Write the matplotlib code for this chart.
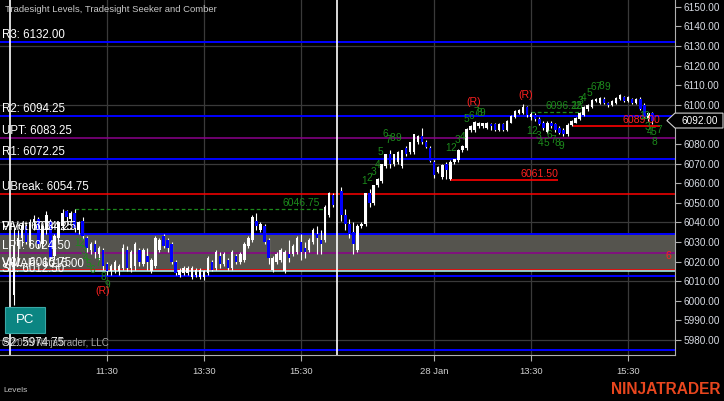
import numpy as np
import matplotlib.pyplot as plt
from matplotlib.patches import Rectangle, Polygon
from matplotlib.transforms import blended_transform_factory

plt.rcParams['font.family'] = ['Liberation Sans', 'DejaVu Sans']

# 5 min bars, 27 Jan (day 1) and 28 Jan (day 2)
d1_open = [6003, 6028, 6032, 6038, 6030, 6040, 6042, 6029, 6036, 6041,
           6023, 6032, 6038, 6046, 6042, 6045, 6036, 6041, 6032, 6026,
           6029, 6024, 6026, 6019, 6015, 6016, 6015, 6017, 6026, 6017,
           6018, 6026, 6019, 6023, 6015, 6018, 6026, 6033, 6031, 6029,
           6020, 6013, 6014, 6014, 6012, 6013, 6012, 6012, 6014, 6020,
           6017, 6023, 6019, 6021, 6017, 6023, 6020, 6021, 6028, 6031,
           6041, 6036, 6038, 6031, 6016, 6020, 6021, 6015, 6024, 6024,
           6025, 6030, 6027, 6026, 6030, 6034, 6031, 6031, 6044, 6054]
d1_high = [6037, 6036, 6040, 6039, 6042, 6044, 6043, 6039, 6046, 6042,
           6034, 6041, 6047, 6046.5, 6046, 6046.75, 6041, 6043, 6033, 6030,
           6031, 6028, 6027, 6020, 6019, 6021, 6019, 6029, 6028, 6026,
           6030, 6027, 6027, 6027, 6022, 6033, 6032, 6034, 6032, 6030,
           6021, 6017, 6018, 6018, 6018, 6017, 6017, 6016, 6023, 6021,
           6026, 6025, 6025, 6022, 6026, 6024, 6025, 6030, 6033, 6044,
           6045, 6040, 6039, 6032, 6023, 6025, 6027, 6026, 6031, 6029,
           6033, 6034, 6030, 6032, 6037, 6038, 6036, 6049, 6055.5, 6055]
d1_low = [5998, 6020, 6028, 6029, 6028, 6036, 6027, 6027, 6034, 6021,
          6021, 6030, 6036, 6041, 6040, 6035, 6034, 6031, 6025, 6024,
          6022, 6021, 6016, 6013, 6013, 6014, 6013, 6016, 6015, 6014.5,
          6016, 6018, 6018, 6016, 6014, 6017, 6025, 6027, 6025, 6019,
          6013, 6012, 6013, 6013, 6011, 6012, 6011, 6010.5, 6013, 6015,
          6016, 6017, 6018, 6016, 6016, 6019, 6019, 6020, 6027, 6030,
          6036, 6035, 6029, 6019, 6014.5, 6019, 6020, 6014, 6020, 6023,
          6024, 6021, 6022, 6025, 6029, 6024, 6024, 6030, 6043, 6048]
d1_close = [6028, 6032, 6038, 6030, 6040, 6042, 6029, 6038, 6044, 6022,
            6033, 6040, 6045, 6043, 6045, 6037, 6040, 6033, 6027, 6029,
            6025, 6027, 6018, 6015, 6018, 6020, 6018, 6027, 6017, 6025,
            6029, 6020, 6026, 6020, 6021, 6032, 6031, 6028, 6027, 6020,
            6014, 6016, 6017, 6017, 6017, 6016, 6016, 6015, 6022, 6016,
            6025, 6019, 6024, 6017, 6025, 6020, 6024, 6029, 6032, 6043,
            6038, 6039, 6030, 6022, 6022, 6024, 6026, 6025, 6022, 6028,
            6032, 6025, 6025, 6031, 6036, 6032, 6029, 6048, 6055, 6049]

d2_open = [6056, 6044, 6039, 6035, 6026, 6038, 6039, 6055, 6050, 6059,
           6061, 6069, 6075, 6070, 6071, 6069, 6078, 6076, 6076, 6081,
           6084, 6081, 6078, 6071, 6066, 6063, 6070, 6062, 6071, 6072,
           6077, 6078, 6087, 6087, 6089, 6089, 6088, 6090, 6090, 6087,
           6090, 6087, 6091, 6094, 6096, 6096, 6099, 6094, 6095, 6093,
           6091, 6086, 6091, 6090, 6088, 6087, 6085, 6089.5, 6091, 6093,
           6095, 6098, 6099, 6102, 6101, 6103, 6101, 6100, 6101, 6103,
           6104, 6102, 6103, 6101, 6103, 6100, 6093, 6096]
d2_high = [6058, 6047, 6042, 6040, 6039, 6040, 6055, 6057, 6059, 6062.5,
           6070, 6075, 6077, 6075, 6076.5, 6077, 6079, 6081, 6085, 6084.5,
           6088, 6082, 6079, 6072, 6069, 6070, 6071, 6072, 6072.5, 6077.5,
           6079.5, 6088, 6089.5, 6092, 6091.5, 6091, 6091.5, 6091, 6090.5, 6090.5,
           6090.5, 6092.5, 6095, 6097.5, 6098, 6100.5, 6099.5, 6096.25, 6096, 6094,
           6092, 6092, 6092, 6091, 6089, 6088, 6091, 6092.5, 6094, 6096.5,
           6099.5, 6100.5, 6103, 6103.5, 6104, 6104, 6101.5, 6102.5, 6104, 6105.5,
           6104.5, 6104.5, 6103.5, 6103.5, 6104, 6101, 6096.5, 6096.5]
d2_low = [6041, 6036, 6032, 6024, 6025, 6037, 6038, 6048, 6049, 6058,
          6060, 6068, 6068, 6069, 6070, 6068, 6074, 6075, 6075, 6080,
          6080, 6078, 6071, 6062.5, 6065, 6062, 6062, 6061.5, 6070, 6071,
          6076, 6077, 6086, 6086, 6088, 6088, 6087.5, 6087, 6086.5, 6086.5,
          6086.5, 6086.5, 6090.5, 6093.5, 6095.5, 6095.5, 6094, 6092.5, 6092, 6089.5,
          6087, 6085.5, 6088, 6086, 6085, 6084, 6084, 6089, 6090.5, 6092.5,
          6094.5, 6097, 6098.5, 6101.5, 6100.5, 6100.5, 6099, 6099.5, 6100.5, 6102.5,
          6101.5, 6101.5, 6100.5, 6100.5, 6097.5, 6093.5, 6092, 6090]
d2_close = [6044, 6039, 6034, 6029, 6038, 6039, 6055, 6050, 6059, 6062,
            6070, 6075, 6070, 6075, 6076, 6077, 6075, 6081, 6085, 6084,
            6081, 6078.5, 6071.5, 6064, 6068.5, 6069.5, 6067, 6071, 6072.5, 6077,
            6079, 6087.5, 6089, 6091.5, 6091, 6090.5, 6091, 6089, 6087, 6090,
            6087, 6092, 6094.5, 6097, 6097.5, 6099, 6095, 6095.5, 6093, 6090,
            6088, 6091, 6089, 6087, 6085.5, 6085, 6089.5, 6092, 6093.5, 6096,
            6099, 6100, 6102.5, 6103, 6103.5, 6101, 6100, 6102, 6103.5, 6105,
            6102, 6104, 6101, 6103, 6098, 6094, 6096, 6092]

tick_bars = [23, 47, 71, 104, 128, 152]
tick_labels = ['11:30', '13:30', '15:30', '28 Jan', '13:30', '15:30']
session_breaks = [-1, 80]

# Tradesight levels
level_prices = [6132.00, 6094.25, 6083.25, 6072.25, 6054.75, 6034.25, 6024.50,
                6015.75, 6015.00, 6012.50, 5974.75]
level_colors = ['#0000ff', '#0000ff', '#8b008b', '#0000ff', '#ff0000', '#0000ff',
                '#8b008b', '#ff0000', '#a8ffff', '#0000ff', '#0000ff']
label_texts = ['R3: 6132.00', 'R2: 6094.25', 'UPT: 6083.25', 'R1: 6072.25',
               'UBreak: 6054.75', 'Pivot: 6034.25', 'VAH: 6034.25', 'LPT: 6024.50',
               'VAL: 6015.75', 'VWAP: 6015.00', 'S1: 6012.50', 'S2: 5974.75']
label_prices = [6132.00, 6094.25, 6083.25, 6072.25, 6054.75, 6034.25, 6034.25,
                6024.50, 6015.75, 6015.00, 6012.50, 5974.75]
va_low, va_high = 6015.75, 6034.25

# Seeker / Comber counts
seek_n = [15.6, 16.6, 17.1, 17.8, 18.3, 19.3, 20.8, 22, 23,
          86.6, 87.9, 88.9, 90.1, 90.8, 91.8, 92.6, 93.6, 95,
          107.4, 108.7, 109.7, 111.1, 111.9, 113.1, 114.4, 115.1, 115.8,
          127.5, 128.7, 129.7, 130.4, 131.7, 132.4, 133.4, 134.4, 135.4,
          138.6, 139.6, 140.1, 141.1, 142.3, 143.3, 144.6, 145.5, 146.8,
          155.4, 156.4, 156.9, 157.4, 158.2, 158.4, 159.7]
seek_p = [6029.5, 6029.5, 6025.5, 6021.9, 6018.8, 6015.8, 6019.3, 6012.2, 6008.1,
          6061.2, 6062.7, 6065.8, 6069.3, 6076.0, 6085.1, 6082.0, 6083.0, 6083.1,
          6078.0, 6078.0, 6082.1, 6083.6, 6092.8, 6094.3, 6096.4, 6095.9, 6095.9,
          6086.7, 6086.7, 6084.1, 6080.6, 6080.6, 6084.6, 6082.1, 6080.6, 6079.0,
          6099.4, 6099.4, 6102.0, 6103.5, 6106.0, 6109.1, 6109.1, 6109.6, 6109.1,
          6094.5, 6094.5, 6088.5, 6086.0, 6086.0, 6081.0, 6087.0]
seek_txt = list('123456789') * 5 + ['1', '2', '3', '4', '5', '8', '7']
r_n = [22, 113.8, 126.6]
r_p = [6005.0, 6101.5, 6105.0]

last_close = d2_close[-1]

o = np.array(d1_open + d2_open, dtype=float)
h = np.array(d1_high + d2_high, dtype=float)
l = np.array(d1_low + d2_low, dtype=float)
c = np.array(d1_close + d2_close, dtype=float)
n = np.concatenate([np.arange(len(d1_close)), np.arange(len(d2_close)) + 81])

fig = plt.figure(figsize=(7.24, 4.01), dpi=100, facecolor='black')
ax = fig.add_axes([0, 46 / 401, 675 / 724, 355 / 401])
ax.set_facecolor('black')
ax.set_xlim(-3.47, 163.6)
ax.set_ylim(5972.4, 6153.5)

for g in np.arange(5980, 6131, 30):
    ax.axhline(g, color='#3a3a3a', lw=0.9, zorder=0.5)
for t in tick_bars:
    ax.axvline(t, color='#3a3a3a', lw=0.9, zorder=0.5)
for s in session_breaks:
    ax.axvline(s, color='white', lw=1.2, zorder=2.5)

ax.axhspan(va_low, va_high, color='#55544e', lw=0, zorder=1)
for p, col in zip(level_prices, level_colors):
    ax.axhline(p, color=col, lw=1.4 if col == '#0000ff' else 1.1, zorder=2)

# candles
up = c >= o
ax.vlines(n, l, h, color='white', lw=0.8, zorder=3)
bot = np.minimum(o, c)
hgt = np.maximum(np.abs(c - o), 0.35)
ax.bar(n[up], hgt[up], bottom=bot[up], width=0.62, color='white', lw=0, zorder=4)
ax.bar(n[~up], hgt[~up], bottom=bot[~up], width=0.62, color='#0000ff', lw=0, zorder=4)

# swing levels
green = '#1c8a1c'
ax.hlines(6046.75, 15, 76.7, colors=green, linestyles=(0, (3, 2)), lw=0.9, zorder=2.6)
ax.text(75.8, 6047.3, '6046.75', color=green, fontsize=7.5, ha='right', va='bottom', zorder=6)
ax.hlines(6096.25, 128, 140.8, colors=green, linestyles=(0, (3, 2)), lw=0.9, zorder=2.6)
ax.text(140.8, 6096.8, '6096.25', color=green, fontsize=7.5, ha='right', va='bottom', zorder=6)
ax.hlines(6061.5, 108, 134.7, colors='#ff0000', lw=1.2, zorder=2.6)
ax.text(134.7, 6062.0, '6061.50', color='#ff2020', fontsize=7.6, ha='right', va='bottom', zorder=6)
ax.hlines(6089.0, 138.4, 160, colors='#ff0000', lw=1.2, zorder=2.6)
ax.text(159.9, 6089.5, '6089.00', color='#ff2020', fontsize=7.6, ha='right', va='bottom', zorder=6)

for xn, yp, t in zip(seek_n, seek_p, seek_txt):
    ax.text(xn, yp, t, color=green, fontsize=7.3, ha='center', va='center', zorder=6)
for xn, yp in zip(r_n, r_p):
    ax.text(xn, yp, '(R)', color='#ff2020', fontsize=7.6, ha='center', va='center', zorder=6)
ax.text(161.9, 6022.9, '6', color='#ff2020', fontsize=7.6, ha='center', va='center', zorder=6)

trans = blended_transform_factory(ax.transAxes, ax.transData)
for t, p in zip(label_texts, label_prices):
    ax.text(0.003, p + 3.6, t, transform=trans, color='white', fontsize=8.3,
            ha='left', va='center', zorder=7)
ax.text(0.003, 5974.75 + 3.6, '\u00a9 2025 NinjaTrader, LLC', transform=trans,
        color='#a8a8a8', fontsize=7, ha='left', va='center', zorder=7)

# axes styling
for sp in ['top', 'left']:
    ax.spines[sp].set_visible(False)
ax.spines['right'].set_color('#b0b0b0')
ax.spines['bottom'].set_color('#b0b0b0')
ax.yaxis.tick_right()
ax.set_yticks(np.arange(5980, 6151, 10))
ax.set_yticklabels(['%.2f' % v for v in np.arange(5980, 6151, 10)])
ax.tick_params(axis='y', colors='#b0b0b0', labelcolor='#d8dce4', length=4, width=0.8,
               labelsize=7.2, pad=2)
ax.set_xticks(tick_bars)
ax.set_xticklabels(tick_labels)
ax.tick_params(axis='x', colors='#b0b0b0', labelcolor='#d0d0d0', length=4, width=0.8,
               labelsize=6.8, pad=5)

# current price marker
pb = 3.8
ax.add_patch(Polygon([(0.988, last_close), (1.0, last_close + pb), (1.0711, last_close + pb),
                      (1.0711, last_close - pb), (1.0, last_close - pb)], closed=True,
                     transform=trans, fc='black', ec='#d0d0d0', lw=0.8, clip_on=False, zorder=10))
ax.text(1.036, last_close, '%.2f' % last_close, transform=trans, color='white',
        fontsize=7.2, ha='center', va='center', zorder=11, clip_on=False)

# overlay for chart furniture
ov = fig.add_axes([0, 0, 1, 1], zorder=5)
ov.set_xlim(0, 724)
ov.set_ylim(401, 0)
ov.axis('off')
ov.patch.set_alpha(0)
ov.text(5, 10, 'Tradesight Levels, Tradesight Seeker and Comber', color='#c8c8c8',
        fontsize=6.8, ha='left', va='center')
ov.add_patch(Rectangle((5, 307), 40, 26, fc='#0b8582', ec='#3aa8a6', lw=0.8))
ov.text(25, 320, 'PC', color='white', fontsize=9.5, ha='center', va='center')
ov.text(3, 391, 'Levels', color='#c0c0c0', fontsize=6, ha='left', va='center')
ov.text(720, 389, 'NINJATRADER', color='#e8461e', fontsize=11.2, fontweight='bold',
        family=['Liberation Sans Narrow', 'Liberation Sans'], ha='right', va='center')

fig.savefig('out.png', dpi=100, facecolor='black')
